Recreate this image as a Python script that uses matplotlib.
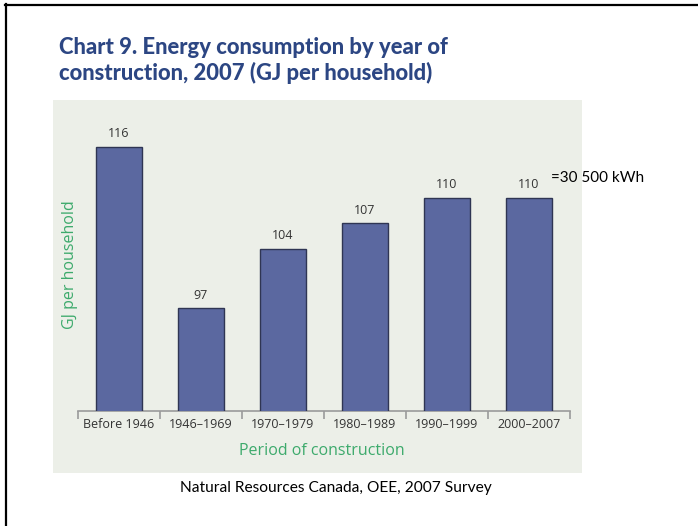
import matplotlib
matplotlib.use("Agg")
import matplotlib.pyplot as plt
from matplotlib.patches import Rectangle
from matplotlib.lines import Line2D
from matplotlib.ticker import FixedLocator

periods = ["Before 1946", "1946\u20131969", "1970\u20131979", "1980\u20131989",
           "1990\u20131999", "2000\u20132007"]
gj_per_household = [116, 97, 104, 107, 110, 110]

title_text = "Chart 9. Energy consumption by year of\nconstruction, 2007 (GJ per household)"
x_label = "Period of construction"
y_label = "GJ per household"
kwh_note = "=30 500 kWh"
source_note = "Natural Resources Canada, OEE, 2007 Survey"

W, H = 698, 526
fig = plt.figure(figsize=(W / 100, H / 100), dpi=100)
fig.patch.set_facecolor("white")

def fx(px):
    return px / W

def fy(py):
    return 1 - py / H

# slide frame (top and left edges)
fig.add_artist(Line2D([fx(5), 1.0], [fy(4.5), fy(4.5)], color="black", lw=1.6,
                      transform=fig.transFigure))
fig.add_artist(Line2D([fx(6), fx(6)], [fy(4), 0.0], color="black", lw=1.6,
                      transform=fig.transFigure))

# chart panel background
fig.add_artist(Rectangle((fx(53), fy(473)), fx(582) - fx(53), fy(100) - fy(473),
                         transform=fig.transFigure, facecolor="#ECEFE8",
                         edgecolor="none", zorder=0))

fig.text(fx(59), fy(37), title_text, ha="left", va="top", fontsize=15.8,
         fontweight="black", color="#2C4683", family="Lato", linespacing=1.2)

ax = fig.add_axes([fx(78), fy(411), fx(570) - fx(78), fy(100) - fy(411)])
ax.set_facecolor("none")
x = list(range(len(periods)))
bars = ax.bar(x, gj_per_household, width=0.57, color="#5B68A0",
              edgecolor="#2F3553", linewidth=1.0, zorder=3)
for xi, v in zip(x, gj_per_household):
    ax.annotate(str(v), (xi, v), xytext=(0, 4.5), textcoords="offset points",
                ha="center", va="bottom", fontsize=9, color="#333333",
                family="Open Sans")

ax.set_xlim(-0.5, len(periods) - 0.5)
ax.set_ylim(84.9, 121.5)
for s in ["top", "right", "left"]:
    ax.spines[s].set_visible(False)
ax.spines["bottom"].set_color("#9A9A9A")
ax.spines["bottom"].set_linewidth(1.2)
ax.set_yticks([])
ax.set_xticks(x)
ax.set_xticklabels(periods, fontsize=9, color="#333333", family="Open Sans")
ax.xaxis.set_minor_locator(FixedLocator([i - 0.5 for i in range(len(periods) + 1)]))
ax.tick_params(axis="x", which="major", length=0, pad=5)
ax.tick_params(axis="x", which="minor", length=6, width=1.2, color="#9A9A9A",
               direction="out")

fig.text(fx(322), fy(451), x_label, ha="center", va="center", fontsize=11.5,
         color="#3DAA6C", family="Open Sans")
fig.text(fx(70), fy(265), y_label, ha="center", va="center", rotation=90,
         fontsize=11.5, color="#3DAA6C", family="Open Sans")

fig.text(fx(551), fy(178), kwh_note, ha="left", va="center", fontsize=11,
         color="black", family="Lato")
fig.text(fx(336), fy(488), source_note, ha="center", va="center", fontsize=11.2,
         color="black", family="Lato")

fig.savefig("out.png", dpi=100, facecolor="white")
